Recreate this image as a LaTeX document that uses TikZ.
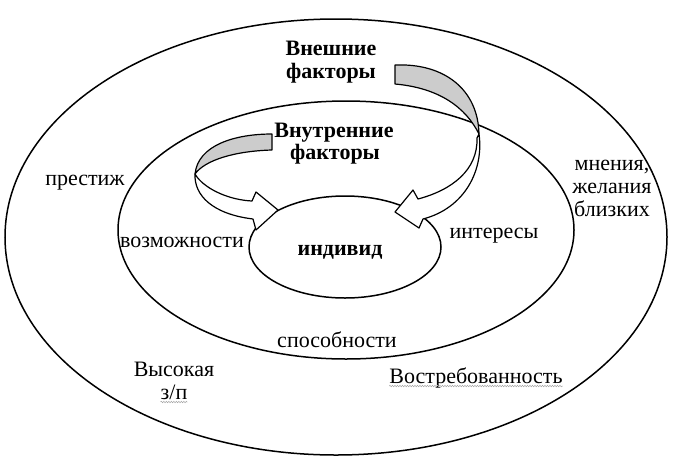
\documentclass[tikz,border=0pt]{standalone}
\usepackage{fontspec}
\setmainfont{Liberation Serif}
\usetikzlibrary{shapes.geometric,decorations.pathmorphing}
\begin{document}
\begin{tikzpicture}[x=1pt,y=-1pt,
  lbl/.style={font=\fontsize{22}{25}\selectfont, inner sep=0pt, anchor=base},
  blbl/.style={font=\fontsize{22}{25}\selectfont\bfseries, inner sep=0pt, anchor=base},
  ring/.style={draw, ellipse, line width=1.5pt, inner sep=0pt},
  rib/.style={draw, line width=1.2pt, line join=round},
  spell/.style={draw=gray!70, line width=0.5pt, decorate, decoration={snake, amplitude=0.7pt, segment length=2.5pt}}]
\useasboundingbox (0,0) rectangle (687,469);
\fill[white] (0,0) rectangle (687,469);
% rings
\node[ring, minimum width=662pt, minimum height=436pt] (outer) at (336,237) {};
\node[ring, minimum width=456pt, minimum height=258pt] (inner) at (346,230) {};
\node[ring, minimum width=192pt, minimum height=102pt] (indiv) at (345,247) {};
% left arrow (internal factors)
\filldraw[rib, fill=gray!40] (272,134) .. controls (235,134) and (198,145) .. (195,174)
   .. controls (205,160) and (235,151) .. (272,150) -- cycle;
\filldraw[rib, fill=white] (195,174) .. controls (194,195) and (212,214) .. (253,219)
   -- (256,230) -- (278,210) -- (256,192) -- (252,201)
   .. controls (230,200) and (207,190) .. (197,177) -- cycle;
% right arrow (external factors)
\filldraw[rib, fill=gray!40] (395,65) .. controls (445,63) and (478,90) .. (479,134)
   .. controls (466,108) and (440,88) .. (395,84) -- cycle;
\filldraw[rib, fill=white] (479,134) .. controls (484,170) and (465,208) .. (423,219)
   -- (419,228) -- (395,212) -- (413,190) -- (418,199)
   .. controls (452,190) and (478,170) .. (477,138) -- cycle;
% labels
\node[blbl] (ext1) at (331,55) {Внешние};
\node[blbl] (ext2) at (331,78) {факторы};
\node[blbl] (int1) at (334,137) {Внутренние};
\node[blbl] (int2) at (335,159) {факторы};
\node[blbl] (ind) at (340,255) {индивид};
\node[lbl] (prest) at (85,185) {престиж};
\node[lbl] (mn1) at (612,170) {мнения,};
\node[lbl] (mn2) at (612,193) {желания};
\node[lbl] (mn3) at (612,216) {близких};
\node[lbl] (voz) at (182,247) {возможности};
\node[lbl] (inte) at (494,238) {интересы};
\node[lbl] (spos) at (337,347) {способности};
\node[lbl] (vys1) at (174,376) {Высокая};
\node[lbl] (vys2) at (174,399) {з/п};
\node[lbl] (vostr) at (476,383) {Востребованность};
\draw[spell] ([yshift=-3pt]vostr.base west) -- ([yshift=-3pt]vostr.base east);
\draw[spell] ([yshift=-3pt]vys2.base west) -- ([yshift=-3pt]vys2.base east);
\end{tikzpicture}
\end{document}
